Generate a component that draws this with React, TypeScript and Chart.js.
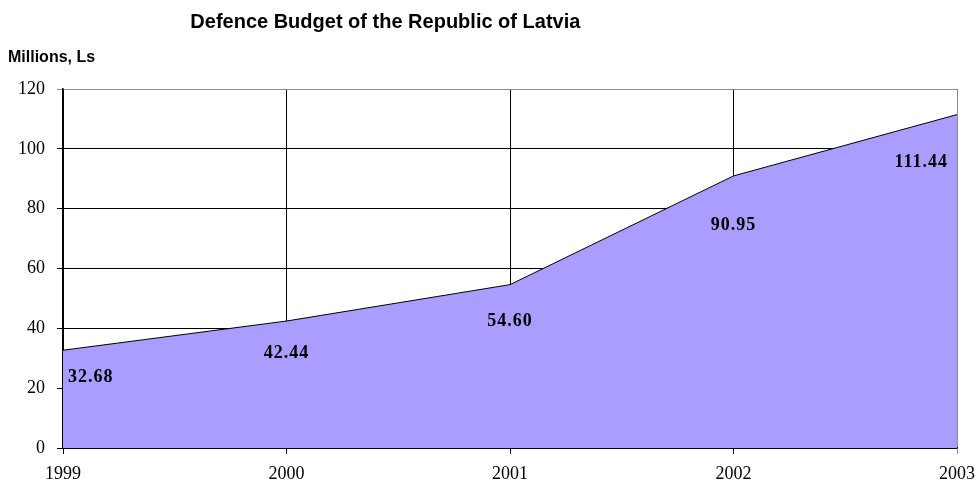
import React, { useEffect, useRef } from "react";
import { Chart, registerables } from "chart.js";

Chart.register(...registerables);

const years = ["1999", "2000", "2001", "2002", "2003"];
const budget = [32.68, 42.44, 54.6, 90.95, 111.44];
const valueLabels = ["32.68", "42.44", "54.60", "90.95", "111.44"];
const chartTitle = "Defence Budget of the Republic of Latvia";
const unitLabel = "Millions, Ls";

const labelOffsets = [27, 32, 37, 49, 48];

const overlayPlugin = {
  id: "overlay",
  afterDatasetsDraw(chart: any) {
    const { ctx } = chart;
    const meta = chart.getDatasetMeta(0);
    ctx.save();
    ctx.fillStyle = "#000";
    ctx.font = "bold 18px 'Liberation Serif', serif";
    (ctx as any).letterSpacing = "1px";
    ctx.textBaseline = "middle";
    meta.data.forEach((pt: any, i: number) => {
      let x = pt.x;
      let align: CanvasTextAlign = "center";
      if (i === 0) {
        align = "left";
        x = pt.x + 5;
      } else if (i === meta.data.length - 1) {
        align = "right";
        x = pt.x - 9;
      }
      ctx.textAlign = align;
      ctx.fillText(valueLabels[i], x, pt.y + labelOffsets[i]);
    });
    ctx.restore();
  },
  afterDraw(chart: any) {
    const { ctx } = chart;
    ctx.save();
    ctx.fillStyle = "#000";
    ctx.textBaseline = "middle";
    ctx.font = "bold 20px 'Liberation Sans', Arial, sans-serif";
    ctx.textAlign = "center";
    ctx.fillText(chartTitle, chart.width * 0.394, 22);
    ctx.font = "bold 16px 'Liberation Sans', Arial, sans-serif";
    ctx.textAlign = "left";
    ctx.fillText(unitLabel, 8, 58);
    ctx.restore();
  },
};

export default function App() {
  const ref = useRef<HTMLCanvasElement>(null);
  useEffect(() => {
    if (!ref.current) return;
    const chart = new Chart(ref.current, {
      type: "line",
      data: {
        labels: years,
        datasets: [
          {
            data: budget,
            borderColor: "#000",
            borderWidth: 1,
            backgroundColor: "#A99EFF",
            fill: "origin",
            pointRadius: 0,
            tension: 0,
          },
        ],
      },
      options: {
        animation: false,
        responsive: false,
        layout: { padding: { top: 89, right: 21, left: 0, bottom: 0 } },
        plugins: { legend: { display: false }, tooltip: { enabled: false }, title: { display: false } },
        scales: {
          x: {
            type: "category",
            offset: false,
            afterFit: (s: any) => {
              s.height = 42;
              s.paddingRight = 0;
              s.paddingLeft = 0;
            },
            grid: {
              color: (c: any) => (c.index === years.length - 1 ? "#8c8c8c" : "#000"),
              lineWidth: 1,
              tickLength: 6,
              drawOnChartArea: true,
              drawTicks: true,
            },
            border: { color: "#000", width: 1.5 },
            ticks: {
              color: "#000",
              font: { family: "'Liberation Serif', serif", size: 18 },
              padding: 9,
              maxRotation: 0,
            },
          },
          y: {
            min: 0,
            max: 120,
            afterFit: (s: any) => {
              s.width = 63;
            },
            grid: {
              color: (c: any) => (c.tick && c.tick.value === 120 ? "#8c8c8c" : "#000"),
              lineWidth: 1,
              tickLength: 6,
            },
            border: { color: "#000", width: 1.5 },
            ticks: {
              stepSize: 20,
              color: "#000",
              font: { family: "'Liberation Serif', serif", size: 18 },
              padding: 12,
            },
          },
        },
      },
      plugins: [overlayPlugin],
    });
    return () => chart.destroy();
  }, []);
  return (
    <div style={{ position: "fixed", left: 0, top: 0, width: 978, height: 490, background: "#fff" }}>
      <canvas ref={ref} width={978} height={490} />
    </div>
  );
}
